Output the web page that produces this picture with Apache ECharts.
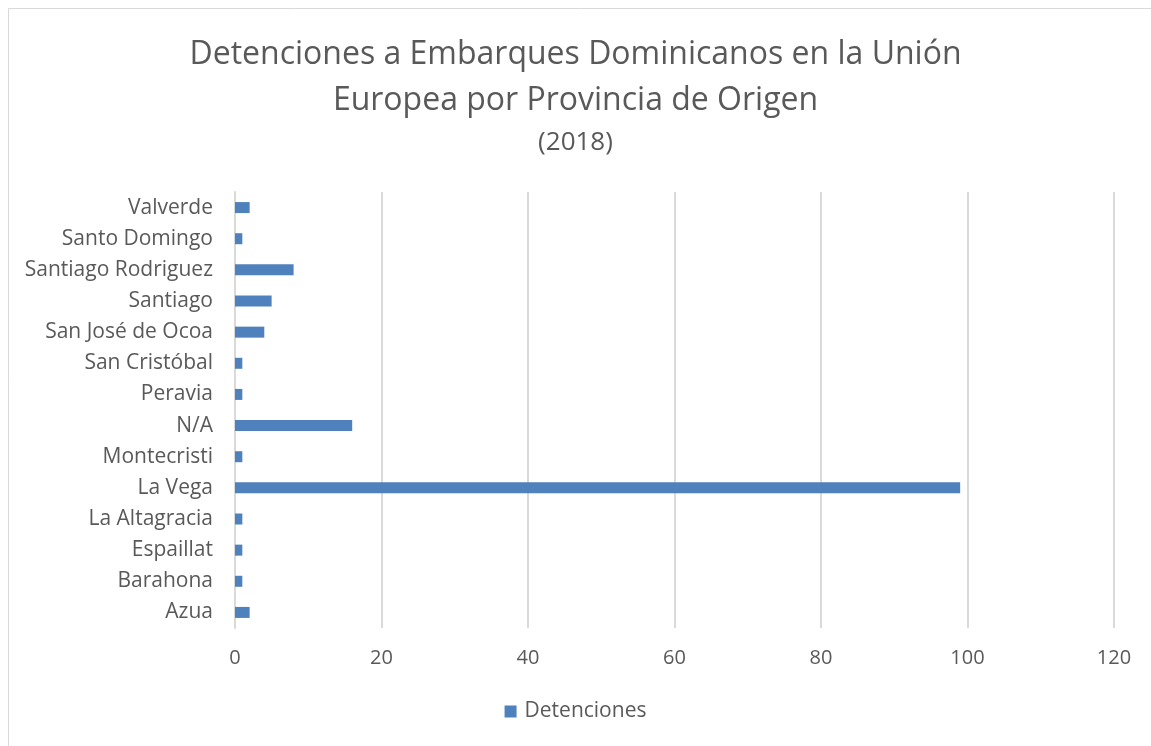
<!DOCTYPE html>
<html>
<head>
<meta charset="utf-8">
<style>
  html, body { margin: 0; padding: 0; background: #fff; }
  #main { width: 1151px; height: 746px; }
</style>
<script src="https://cdn.jsdelivr.net/npm/echarts@6/dist/echarts.min.js"></script>
</head>
<body>
<div id="main"></div>
<script>
// provincias (de abajo hacia arriba, como en el gráfico)
var provincias = ['Azua', 'Barahona', 'Espaillat', 'La Altagracia', 'La Vega', 'Montecristi',
  'N/A', 'Peravia', 'San Cristóbal', 'San José de Ocoa', 'Santiago', 'Santiago Rodriguez',
  'Santo Domingo', 'Valverde']
var detenciones = [2, 1, 1, 1, 99, 1, 16, 1, 1, 4, 5, 8, 1, 2]
var xTicks = [0, 20, 40, 60, 80, 100, 120]

var font = 'Open Sans'
var gris = '#595959'

var chart = echarts.init(document.getElementById('main'))
chart.setOption({
  animation: false,
  textStyle: { fontFamily: font },
  graphic: [{
    type: 'rect',
    shape: { x: 8.5, y: 8.5, width: 1160, height: 760 },
    style: { fill: 'none', stroke: '#d9d9d9', lineWidth: 1 }
  }],
  title: {
    text: 'Detenciones a Embarques Dominicanos en la Unión\nEuropea por Provincia de Origen',
    subtext: '(2018)',
    left: 'center',
    top: 27,
    itemGap: 4,
    textStyle: { fontFamily: font, fontSize: 32, fontWeight: 'normal', color: gris, lineHeight: 46 },
    subtextStyle: { fontFamily: font, fontSize: 26, color: gris, lineHeight: 30 }
  },
  legend: {
    bottom: 19,
    left: 'center',
    icon: 'rect',
    itemWidth: 12,
    itemHeight: 12,
    itemGap: 6,
    textStyle: { fontFamily: font, fontSize: 21, color: gris, padding: [0, 0, 0, 3] },
    data: ['Detenciones']
  },
  grid: { left: 235, right: 37, top: 192, bottom: 118, containLabel: false },
  xAxis: {
    type: 'value',
    min: xTicks[0],
    max: xTicks[xTicks.length - 1],
    interval: 20,
    axisLine: { show: false },
    axisTick: { show: false },
    axisLabel: { fontFamily: font, fontSize: 20, color: gris, margin: 20 },
    splitLine: { lineStyle: { color: '#d9d9d9', width: 2 } }
  },
  yAxis: {
    type: 'category',
    data: provincias,
    axisLine: { lineStyle: { color: '#d9d9d9', width: 2 } },
    axisTick: { show: false },
    axisLabel: { fontFamily: font, fontSize: 21, color: gris, margin: 22 }
  },
  series: [{
    name: 'Detenciones',
    type: 'bar',
    data: detenciones,
    barWidth: 11,
    itemStyle: { color: '#4f81bd' }
  }]
})
</script>
</body>
</html>
